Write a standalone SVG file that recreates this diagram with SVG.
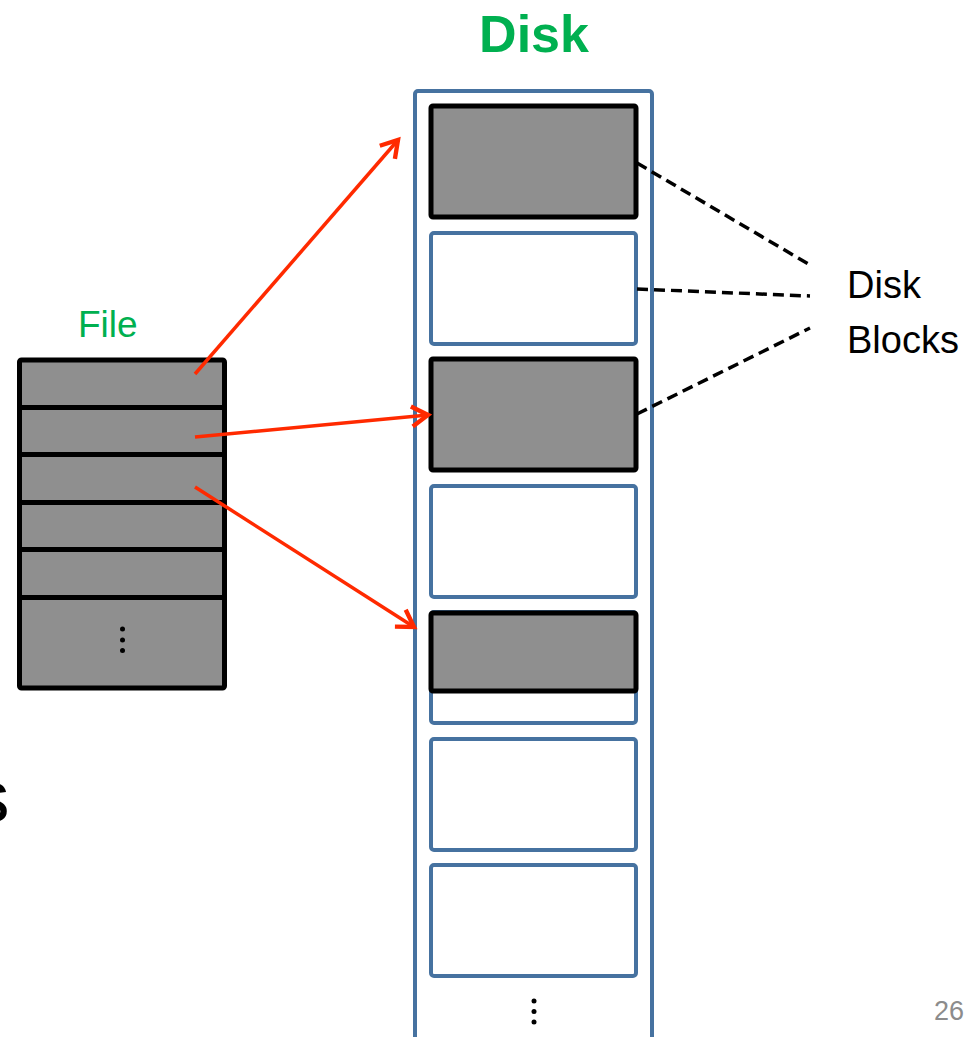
<svg xmlns="http://www.w3.org/2000/svg" width="977" height="1037" viewBox="0 0 977 1037">
  <style>
    .gray { fill: #8F8F8F; stroke: #000; stroke-width: 5; }
    .blk { fill: #FFFFFF; stroke: #4672A0; stroke-width: 4; }
    .div { stroke: #000; stroke-width: 5; }
    .arrow { stroke: #FF2A00; stroke-width: 3.5; fill: none; marker-end: url(#ah); }
    .dash { stroke: #000; stroke-width: 3.5; stroke-dasharray: 11 6; fill: none; }
    .green { fill: #00B050; font-family: "Liberation Sans", Arial, sans-serif; }
    .lbl { fill: #000; font-family: "Liberation Sans", Arial, sans-serif; font-size: 38px; }
  </style>
  <defs>
    <marker id="ah" markerUnits="userSpaceOnUse" markerWidth="30" markerHeight="30" refX="0" refY="0" viewBox="-16 -12 20 24" orient="auto" overflow="visible">
      <path d="M-13,-8 L0,0 L-13,8" fill="none" stroke="#FF2A00" stroke-width="3.5" stroke-linejoin="miter"/>
    </marker>
  </defs>
  <rect width="977" height="1037" fill="#FFFFFF"/>

  <text x="-28" y="822" font-family="Liberation Sans, Arial, sans-serif" font-size="75" fill="#000">s</text>

  <g id="disk">
    <rect x="415" y="91" width="237" height="1010" rx="3" fill="#FFFFFF" stroke="#4672A0" stroke-width="4"/>
    <text class="green" x="534" y="52" font-size="52" font-weight="bold" text-anchor="middle">Disk</text>
    <circle cx="534" cy="1001" r="2.5" fill="#000"/>
    <circle cx="534" cy="1011.5" r="2.5" fill="#000"/>
    <circle cx="534" cy="1022" r="2.5" fill="#000"/>
  </g>
  <g id="block1"><rect class="gray" x="431" y="106" width="205" height="111" rx="2"/></g>
  <g id="block2"><rect class="blk" x="431" y="233" width="205" height="111" rx="3"/></g>
  <g id="block3"><rect class="gray" x="431" y="359" width="205" height="111" rx="2"/></g>
  <g id="block4"><rect class="blk" x="431" y="486" width="205" height="111" rx="3"/></g>
  <g id="block5">
    <rect class="blk" x="431" y="612" width="205" height="111" rx="3"/>
    <rect class="gray" x="431" y="613" width="205" height="78" rx="2"/>
  </g>
  <g id="block6"><rect class="blk" x="431" y="739" width="205" height="111" rx="3"/></g>
  <g id="block7"><rect class="blk" x="431" y="865" width="205" height="111" rx="3"/></g>

  <g id="file">
    <text class="green" x="78" y="337" font-size="37">File</text>
    <rect class="gray" x="19.5" y="360" width="205" height="328" rx="2"/>
    <line class="div" x1="19.5" y1="407.5" x2="224.5" y2="407.5"/>
    <line class="div" x1="19.5" y1="454.5" x2="224.5" y2="454.5"/>
    <line class="div" x1="19.5" y1="502.5" x2="224.5" y2="502.5"/>
    <line class="div" x1="19.5" y1="549.5" x2="224.5" y2="549.5"/>
    <line class="div" x1="19.5" y1="597.5" x2="224.5" y2="597.5"/>
    <circle cx="122.5" cy="629" r="2.5" fill="#000"/>
    <circle cx="122.5" cy="640" r="2.5" fill="#000"/>
    <circle cx="122.5" cy="650.5" r="2.5" fill="#000"/>
  </g>

  <g id="disk-blocks-label">
    <text class="lbl" x="847" y="298">Disk</text>
    <text class="lbl" x="847" y="353">Blocks</text>
  </g>

  <g id="connectors">
    <line class="dash" x1="637" y1="163" x2="810" y2="265"/>
    <line class="dash" x1="637" y1="289" x2="810" y2="296"/>
    <line class="dash" x1="637" y1="414" x2="810" y2="328"/>
    <line class="arrow" x1="195" y1="374" x2="398" y2="140"/>
    <line class="arrow" x1="195" y1="437" x2="428" y2="415"/>
    <line class="arrow" x1="195" y1="487" x2="414" y2="627"/>
  </g>

  <text x="934" y="1020" font-family="Liberation Sans, Arial, sans-serif" font-size="27" fill="#8C8C8C">26</text>
</svg>
